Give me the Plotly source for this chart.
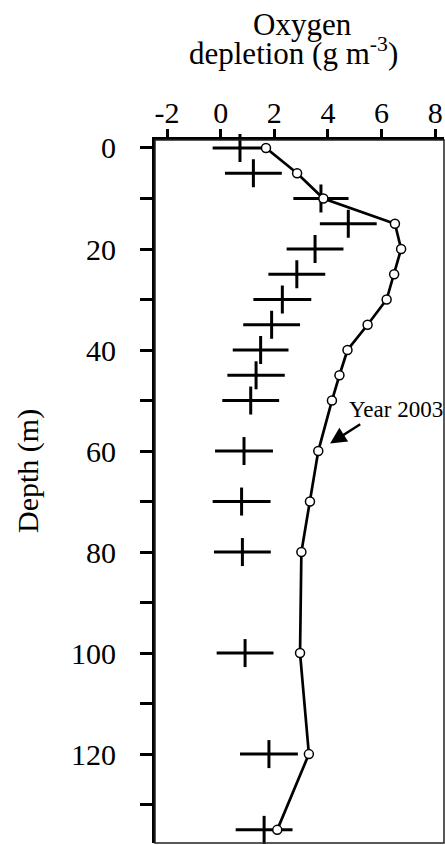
import plotly.graph_objects as go

# ---- data ----
depth = [0, 5, 10, 15, 20, 25, 30, 35, 40, 45, 50, 60, 70, 80, 100, 120, 135]
depletion_2003 = [1.69, 2.85, 3.83, 6.50, 6.73, 6.47, 6.19, 5.48, 4.73, 4.43,
                  4.15, 3.64, 3.33, 3.01, 2.96, 3.29, 2.11]
depletion_mean = [0.72, 1.22, 3.74, 4.76, 3.52, 2.84, 2.30, 1.90, 1.49, 1.32,
                  1.12, 0.87, 0.78, 0.81, 0.91, 1.80, 1.62]
depletion_err = [1.02, 1.06, 1.03, 1.06, 1.06, 1.06, 1.08, 1.06, 1.04, 1.07,
                 1.06, 1.08, 1.08, 1.06, 1.06, 1.08, 1.06]

x_ticks = [-2, 0, 2, 4, 6, 8]
x_ticktext = ["-2", "0", "2", "4", "6", "8"]
y_ticks = list(range(0, 140, 10))
y_ticktext = [str(v) if v % 20 == 0 else "" for v in y_ticks]

FONT = "Liberation Serif, Times New Roman, serif"

fig = go.Figure()

# mean +/- sd crosses
fig.add_trace(go.Scatter(
    x=depletion_mean, y=depth, mode="markers",
    marker=dict(symbol="line-ns", size=20, color="black",
                line=dict(color="black", width=3)),
    error_x=dict(type="data", array=depletion_err, visible=True,
                 thickness=3, width=0, color="black"),
    showlegend=False, cliponaxis=False,
))

# Year 2003 profile
fig.add_trace(go.Scatter(
    x=depletion_2003, y=depth, mode="lines+markers",
    line=dict(color="black", width=2.7),
    marker=dict(symbol="circle", size=9, color="white",
                line=dict(color="black", width=1.5)),
    showlegend=False, cliponaxis=False,
))

fig.update_layout(
    width=445, height=845,
    margin=dict(l=155, r=1, t=140, b=2, autoexpand=False),
    paper_bgcolor="white", plot_bgcolor="white",
    font=dict(family=FONT, color="black", size=30),
    xaxis=dict(
        side="top", range=[-2.45, 8.33], tickvals=x_ticks, ticktext=x_ticktext,
        ticks="outside", ticklen=8, tickwidth=2.5, tickcolor="black",
        showline=True, linewidth=3, linecolor="black",
        showgrid=False, zeroline=False, automargin=False, ticklabelstandoff=-6,
        tickfont=dict(family=FONT, size=30, color="black"),
    ),
    yaxis=dict(
        range=[137.6, -1.58], tickvals=y_ticks, ticktext=y_ticktext,
        ticks="outside", ticklen=12, tickwidth=3, tickcolor="black",
        showline=True, linewidth=3, linecolor="black",
        showgrid=False, zeroline=False, ticklabelstandoff=18, automargin=False,
        tickfont=dict(family=FONT, size=30, color="black"),
    ),
    shapes=[dict(type="rect", xref="paper", yref="paper", x0=0, x1=1, y0=0, y1=1,
                 line=dict(color="#222", width=1.5), layer="above")],
    annotations=[
        dict(text="Oxygen", xref="paper", yref="paper", x=0.512, y=1.165,
             xanchor="center", yanchor="middle", showarrow=False,
             font=dict(family=FONT, size=31)),
        dict(text="depletion (g m<sup>-3</sup>)", xref="paper", yref="paper",
             x=0.48, y=1.126, xanchor="center", yanchor="middle", showarrow=False,
             font=dict(family=FONT, size=31)),
        dict(text="Depth (m)", xref="paper", yref="paper", x=-0.44, y=0.529,
             xanchor="center", yanchor="middle", textangle=-90, showarrow=False,
             font=dict(family=FONT, size=30)),
        dict(text="Year 2003", xref="x", yref="y", x=4.70, y=51.7,
             xanchor="left", yanchor="middle", showarrow=False,
             font=dict(family=FONT, size=23)),
        dict(text="", xref="x", yref="y", x=4.08, y=58.5,
             axref="x", ayref="y", ax=5.26, ay=54.5,
             showarrow=True, arrowhead=2, arrowsize=1.3, arrowwidth=2.5,
             arrowcolor="black"),
    ],
)

fig.write_html(
    "out.html",
    config={"displayModeBar": False},
    post_script="document.body.style.margin='0';document.body.style.overflow='hidden';",
)
